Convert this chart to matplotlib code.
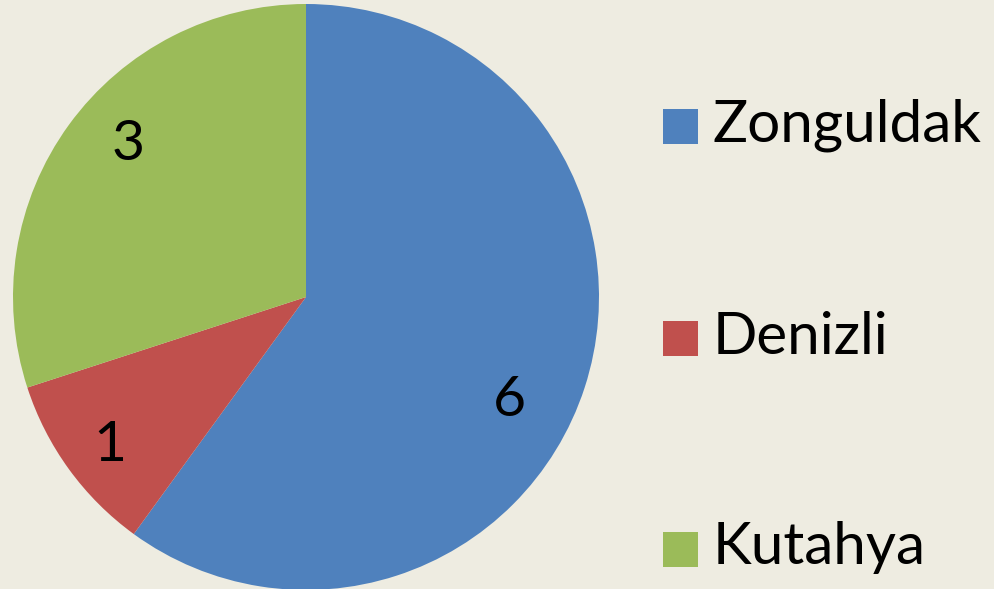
import numpy as np
import matplotlib.pyplot as plt
from matplotlib.patches import Rectangle

labels = ["Zonguldak", "Denizli", "Kutahya"]
values = [6, 1, 3]
colors = ["#4F81BD", "#C0504D", "#9BBB59"]
bg = "#EEECE1"

W, H = 994, 589
fig = plt.figure(figsize=(W / 100, H / 100), dpi=100, facecolor=bg)

# pie: centre (306, 297) px, radius 293 px
cx, cy, r = 306, 297, 293
ax = fig.add_axes([(cx - r) / W, (H - cy - r) / H, 2 * r / W, 2 * r / H])
ax.set_facecolor(bg)
wedges, texts = ax.pie(values, colors=colors, startangle=90, counterclock=False,
                       radius=1, wedgeprops=dict(linewidth=0))
ax.set_xlim(-1, 1)
ax.set_ylim(-1, 1)
ax.set_aspect("equal")
ax.axis("off")

# value labels (excel "best fit"-ish positions)
lab_ang = [-27, -143, 139.5]
lab_r = [0.78, 0.84, 0.80]
for v, a, rr in zip(values, lab_ang, lab_r):
    t = np.deg2rad(a)
    ax.text(rr * np.cos(t), rr * np.sin(t), str(v), ha="center", va="center",
            fontsize=41, family="Lato", color="black")

# legend
ys = [125, 337, 548]
for lab, c, y in zip(labels, colors, ys):
    fig.patches.append(Rectangle((663 / W, (H - y - 19) / H), 35 / W, 35 / H,
                                 transform=fig.transFigure, facecolor=c,
                                 edgecolor="none"))
    fig.text(713 / W, (H - y) / H, lab, ha="left", va="center",
             fontsize=42, family="Lato", color="black")

fig.savefig("out.png", dpi=100, facecolor=bg)
